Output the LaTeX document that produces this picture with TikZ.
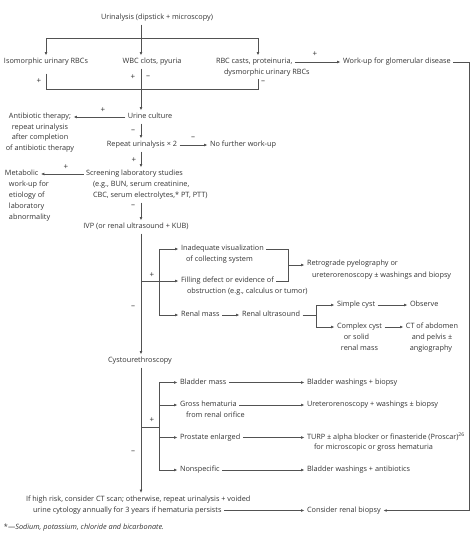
\documentclass[tikz,border=0pt]{standalone}
\usepackage{fontspec}
\setmainfont{Open Sans}
\usetikzlibrary{arrows.meta,calc}
\definecolor{tc}{gray}{0.2}
\definecolor{lc}{gray}{0.32}
\begin{document}
\begin{tikzpicture}[x=1pt,y=-1pt,
  font=\fontsize{7.3}{9}\selectfont,
  txt/.style={inner sep=0pt,outer xsep=2.5pt,outer ysep=3pt,text height=5.4pt,text depth=1.6pt,text=tc},
  lab/.style={inner sep=0pt,text=tc,font=\fontsize{8}{9}\selectfont},
  ln/.style={draw=lc,line width=0.75pt},
  arr/.style={ln,-{Latex[length=3.4pt,width=2.8pt]}},
]
\fill[white] (0,0) rectangle (474,536);
\useasboundingbox (0,0) rectangle (474,536);

% column / row coordinates
\coordinate (mx) at (141,0);
\coordinate (sx) at (159,0);
\coordinate (rx) at (258,0);
\coordinate (t1) at (0,38);
\coordinate (b1) at (0,89);
\coordinate (brk1) at (288,0);
\coordinate (brk2) at (316,0);
\coordinate (rr) at (469,0);
\coordinate (cybr) at (0,427);

% texts
\node[txt] (urin) at (157,18) {Urinalysis (dipstick + microscopy)};
\node[txt] (iso) at (46,62) {Isomorphic urinary RBCs};
\node[txt] (wbc) at (152,62) {WBC clots, pyuria};
\node[txt,anchor=west] (rbc1) at (213.5,62) {RBC casts, proteinuria,};
\node[txt,anchor=west] (rbc2) at (221.5,72.5) {dysmorphic urinary RBCs};
\node[txt,anchor=west] (work) at (340.5,62) {Work-up for glomerular disease};
\node[txt] (ucult) at (150,117) {Urine culture};
\node[txt] (anti1) at (40,117) {Antibiotic therapy;};
\node[txt] (anti2) at (40,127.5) {repeat urinalysis};
\node[txt] (anti3) at (40,138) {after completion};
\node[txt] (anti4) at (40,148.5) {of antibiotic therapy};
\node[txt] (rep) at (142,145) {Repeat urinalysis × 2};
\node[txt,anchor=west] (nofur) at (207.5,145) {No further work-up};
\node[txt,anchor=west] (scr1) at (83.5,174) {Screening laboratory studies};
\node[txt,anchor=west] (scr2) at (90.5,185) {(e.g., BUN, serum creatinine,};
\node[txt,anchor=west] (scr3) at (90.5,196) {CBC, serum electrolytes,* PT, PTT)};
\node[txt,anchor=west] (met1) at (2.5,174) {Metabolic};
\node[txt,anchor=west] (met2) at (6.5,185) {work-up for};
\node[txt,anchor=west] (met3) at (6.5,196) {etiology of};
\node[txt,anchor=west] (met4) at (6.5,207) {laboratory};
\node[txt,anchor=west] (met5) at (6.5,218) {abnormality};
\node[txt] (ivp) at (136,227) {IVP (or renal ultrasound + KUB)};
\node[txt,anchor=west] (inad1) at (178.5,249) {Inadequate visualization};
\node[txt,anchor=west] (inad2) at (183.5,259.5) {of collecting system};
\node[txt,anchor=west] (fill1) at (178.5,281) {Filling defect or evidence of};
\node[txt,anchor=west] (fill2) at (184.5,291.5) {obstruction (e.g., calculus or tumor)};
\node[txt,anchor=west] (retro1) at (304.5,264) {Retrograde pyelography or};
\node[txt,anchor=west] (retro2) at (309.5,275.5) {ureterorenoscopy ± washings and biopsy};
\node[txt,anchor=west] (renal) at (178.5,315) {Renal mass};
\node[txt,anchor=west] (rus) at (239.5,315) {Renal ultrasound};
\node[txt,anchor=west] (simple) at (334.5,305) {Simple cyst};
\node[txt,anchor=west] (observe) at (407.5,305) {Observe};
\node[txt,anchor=west] (cplx1) at (334.5,327) {Complex cyst};
\node[txt] (cplx2) at ($(cplx1.center)+(-3,11)$) {or solid};
\node[txt] (cplx3) at ($(cplx1.center)+(0,22)$) {renal mass};
\node[txt] (ct1) at (432,327) {CT of abdomen};
\node[txt] (ct2) at (432,338) {and pelvis ±};
\node[txt] (ct3) at (431,349) {angiography};
\node[txt] (cysto) at (140,361) {Cystourethroscopy};
\node[txt,anchor=west] (bm) at (177.5,382.5) {Bladder mass};
\node[txt,anchor=west] (gh1) at (177.5,405) {Gross hematuria};
\node[txt,anchor=west] (gh2) at (183.5,416) {from renal orifice};
\node[txt,anchor=west] (pe) at (177.5,437.5) {Prostate enlarged};
\node[txt,anchor=west] (ns) at (177.5,470) {Nonspecific};
\node[txt,anchor=west] (bw) at (304.5,382.5) {Bladder washings + biopsy};
\node[txt,anchor=west] (uro) at (304.5,405) {Ureterorenoscopy + washings ± biopsy};
\node[txt,anchor=west] (turp1) at (304.5,437.5) {TURP ± alpha blocker or finasteride (Proscar)\textsuperscript{26}};
\node[txt,anchor=west] (turp2) at (311.5,447.5) {for microscopic or gross hematuria};
\node[txt,anchor=west] (bwa) at (304.5,470) {Bladder washings + antibiotics};
\node[txt,anchor=west] (if1) at (23.5,499.5) {If high risk, consider CT scan; otherwise, repeat urinalysis + voided};
\node[txt,anchor=west] (if2) at (30.5,510.5) {urine cytology annually for 3 years if hematuria persists};
\node[txt,anchor=west] (crb) at (304.5,510.5) {Consider renal biopsy};
\node[txt,anchor=west] (foot) at (1.5,528) {*—\textit{Sodium, potassium, chloride and bicarbonate.}};

% plus / minus labels
\node[lab] (lp1) at (39,81) {+};
\node[lab] (lm1) at (263,82) {–};
\node[lab] (lp2) at (133,77) {+};
\node[lab] (lm2) at (148,77) {–};
\node[lab] (lp8) at (315,54) {+};
\node[lab] (lp3) at (103,110) {+};
\node[lab] (lm3) at (133,131) {–};
\node[lab] (lm4) at (193,138) {–};
\node[lab] (lp4) at (134,160) {+};
\node[lab] (lp5) at (66,167) {+};
\node[lab] (lm5) at (133,206) {–};
\node[lab] (lp6) at (152,275) {+};
\node[lab] (lm6) at (133,307) {–};
\node[lab] (lp7) at (152,420) {+};
\node[lab] (lm7) at (133,452) {–};

% top part
\draw[arr] (urin.south -| mx) -- (wbc.north -| mx);
\draw[ln] (iso.north |- t1) -- (t1 -| rx);
\draw[arr] (iso.north |- t1) -- (iso.north);
\draw[arr] (t1 -| rx) -- (rbc1.north -| rx);
\draw[arr] (rbc1.east) -- (work.west);
\draw[ln] ([yshift=-5pt]iso.south) -- (iso.south |- b1) -- (b1 -| rx) -- (rbc2.south -| rx);
\draw[ln] (wbc.south -| mx) -- (b1 -| mx);
\draw[arr] (b1 -| mx) -- (ucult.north -| mx);
\draw[arr] (ucult.west) -- (anti1.east);
\draw[arr] (ucult.south -| mx) -- (rep.north -| mx);
\draw[arr] (rep.east) -- (nofur.west);
\draw[arr] (rep.south -| mx) -- (scr1.north -| mx);
\draw[arr] (scr1.west) -- (met1.east);
\draw[arr] (scr3.south -| mx) -- (ivp.north -| mx);

% IVP branch
\draw[arr] (ivp.south -| mx) -- (cysto.north -| mx);
\draw[ln] (fill1.west -| mx) -- (fill1.west -| sx);
\draw[ln] (inad1.west -| sx) -- (renal.west -| sx);
\draw[arr] (inad1.west -| sx) -- (inad1.west);
\draw[arr] (fill1.west -| sx) -- (fill1.west);
\draw[arr] (renal.west -| sx) -- (renal.west);
\draw[ln] (inad1.east) -- (inad1.east -| brk1) -- (fill1.east -| brk1) -- (fill1.east);
\coordinate (brm) at ($(inad1.east -| brk1)!0.5!(fill1.east -| brk1)$);
\draw[arr] (brm) -- (brm -| retro1.west);
\draw[arr] (renal.east) -- (rus.west);
\draw[ln] (rus.east) -- (rus.east -| brk2);
\draw[ln] (simple.west -| brk2) -- (cplx1.west -| brk2);
\draw[arr] (simple.west -| brk2) -- (simple.west);
\draw[arr] (cplx1.west -| brk2) -- (cplx1.west);
\draw[arr] (simple.east) -- (observe.west);
\draw[arr] (cplx1.east) -- (ct1.west);

% cystourethroscopy branch
\draw[arr] (cysto.south -| mx) -- (if1.north -| mx);
\draw[ln] (cybr -| mx) -- (cybr -| sx);
\draw[ln] (bm.west -| sx) -- (ns.west -| sx);
\draw[arr] (bm.west -| sx) -- (bm.west);
\draw[arr] (gh1.west -| sx) -- (gh1.west);
\draw[arr] (pe.west -| sx) -- (pe.west);
\draw[arr] (ns.west -| sx) -- (ns.west);
\draw[arr] (bm.east) -- (bw.west);
\draw[arr] (gh1.east) -- (uro.west);
\draw[arr] (pe.east) -- (turp1.west);
\draw[arr] (ns.east) -- (bwa.west);

% bottom
\draw[arr] (if2.east) -- (crb.west);
\draw[arr] (work.east) -- (work.east -| rr) -- (crb.east -| rr) -- (crb.east);
\end{tikzpicture}
\end{document}
